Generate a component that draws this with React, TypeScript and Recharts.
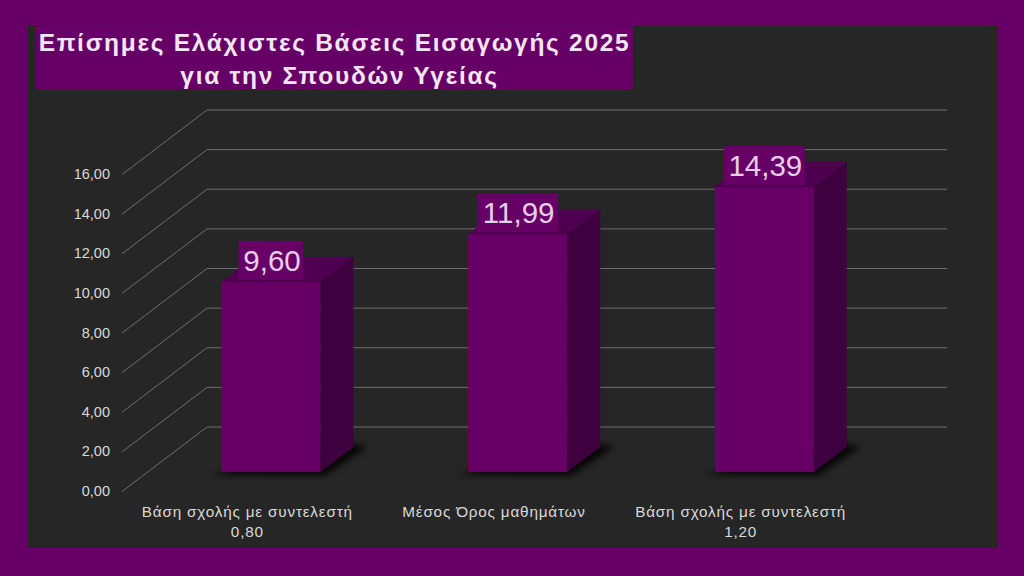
import React from "react";
import { BarChart, Bar, XAxis, YAxis, CartesianGrid, LabelList } from "recharts";

const categories: string[] = [
  "Βάση σχολής με συντελεστή\n0,80",
  "Μέσος Όρος μαθημάτων",
  "Βάση σχολής με συντελεστή\n1,20",
];
const values: number[] = [9.6, 11.99, 14.39];
const yTicks: number[] = [0, 2, 4, 6, 8, 10, 12, 14, 16];

const rows = categories.map((name, i) => ({ name, value: values[i] }));

const FONT = "'Liberation Sans', Arial, sans-serif";
const PURPLE = "#660066";
// front plane of the fake 3D box sits in front of the back wall
const FRONT_DX = -85;
const FRONT_DY = 64.5;
const BAR_DX = -59.5;
const BAR_DY = 45;
const DEPTH_X = 33;
const DEPTH_Y = -25;

const fmt = (v: number) => v.toFixed(2).replace(".", ",");

const YTick = (props: any) => {
  const { y, payload } = props;
  const left = 207 + FRONT_DX;
  return (
    <g>
      <line x1={left} y1={y + FRONT_DY} x2={207} y2={y} stroke="#6e6e6e" strokeWidth={1} />
      <text x={110} y={y + FRONT_DY + 4.5} textAnchor="end" fill="#d9d9d9" fontSize={14.5} fontFamily={FONT}>
        {fmt(payload.value)}
      </text>
    </g>
  );
};

const XTick = (props: any) => {
  const { x, payload } = props;
  const lines: string[] = String(payload.value).split("\n");
  return (
    <g>
      {lines.map((l, i) => (
        <text
          key={i}
          x={x + FRONT_DX + 2}
          y={516.5 + i * 20}
          textAnchor="middle"
          fill="#d9d9d9"
          fontSize={15.3}
          letterSpacing={0.8}
          fontFamily={FONT}
        >
          {l}
        </text>
      ))}
    </g>
  );
};

const Box3D = (props: any) => {
  const { x, y, width, height } = props;
  const l = x + BAR_DX;
  const r = l + width;
  const t = y + BAR_DY;
  const b = t + height;
  const pts = (a: number[][]) => a.map((p) => p.join(",")).join(" ");
  return (
    <g>
      <polygon
        points={pts([
          [l - 10, b + 3],
          [r + 4, b + 4],
          [r + DEPTH_X + 14, b + DEPTH_Y],
          [r + DEPTH_X - 4, b + DEPTH_Y - 4],
          [l + 20, b - 6],
        ])}
        fill="#000"
        opacity={0.8}
        filter="url(#floorBlur)"
      />
      <polygon
        points={pts([
          [l, t],
          [r, t],
          [r + DEPTH_X, t + DEPTH_Y],
          [l + DEPTH_X, t + DEPTH_Y],
        ])}
        fill="#500050"
      />
      <polygon
        points={pts([
          [r, t],
          [r + DEPTH_X, t + DEPTH_Y],
          [r + DEPTH_X, b + DEPTH_Y],
          [r, b],
        ])}
        fill="#3f003f"
      />
      <rect x={l} y={t} width={width} height={height} fill={PURPLE} />
    </g>
  );
};

const ValueLabel = (props: any) => {
  const { x, y, width, value } = props;
  const cx = x + BAR_DX + width / 2;
  const top = y + BAR_DY;
  const text = fmt(value);
  const w = text.length === 4 ? 65 : 81;
  return (
    <g>
      <rect x={cx - w / 2} y={top - 41} width={w} height={39} fill={PURPLE} />
      <text x={cx + 1} y={top - 11} textAnchor="middle" fill="#e6cfe6" fontSize={29.5} fontFamily={FONT}>
        {text}
      </text>
    </g>
  );
};

export default function App() {
  return (
    <div style={{ position: "fixed", left: 0, top: 0, width: 1024, height: 576, background: PURPLE, overflow: "hidden" }}>
      <div style={{ position: "absolute", left: 28, top: 25, width: 970, height: 523, background: "#262626" }} />
      <div style={{ position: "absolute", left: 0, top: 0 }}>
        <BarChart
          width={1024}
          height={576}
          data={rows}
          margin={{ top: 110, right: 77, bottom: 148, left: 206 }}
        >
          <defs>
            <filter id="floorBlur" x="-20%" y="-50%" width="140%" height="200%">
              <feGaussianBlur stdDeviation="3" />
            </filter>
          </defs>
          <CartesianGrid horizontal vertical={false} stroke="#6e6e6e" strokeWidth={1} syncWithTicks />
          <XAxis dataKey="name" height={1} axisLine={false} tickLine={false} tick={<XTick />} interval={0} />
          <YAxis
            domain={[0, 16]}
            ticks={yTicks}
            width={1}
            axisLine={false}
            tickLine={false}
            tick={<YTick />}
            interval={0}
          />
          <Bar dataKey="value" barSize={99} shape={<Box3D />} isAnimationActive={false}>
            <LabelList dataKey="value" content={<ValueLabel />} />
          </Bar>
        </BarChart>
      </div>
      <div
        style={{
          position: "absolute",
          left: 36,
          top: 26,
          width: 597,
          height: 63,
          background: PURPLE,
          color: "#f3e6f3",
          fontFamily: FONT,
          fontWeight: 700,
          fontSize: 24.5,
          letterSpacing: 1.7,
          lineHeight: "33px",
          textAlign: "center",
          whiteSpace: "nowrap",
        }}
      >
        Επίσημες Ελάχιστες Βάσεις Εισαγωγής 2025
        <br />
        <span style={{ position: "relative", left: 5 }}>για την Σπουδών Υγείας</span>
      </div>
    </div>
  );
}
